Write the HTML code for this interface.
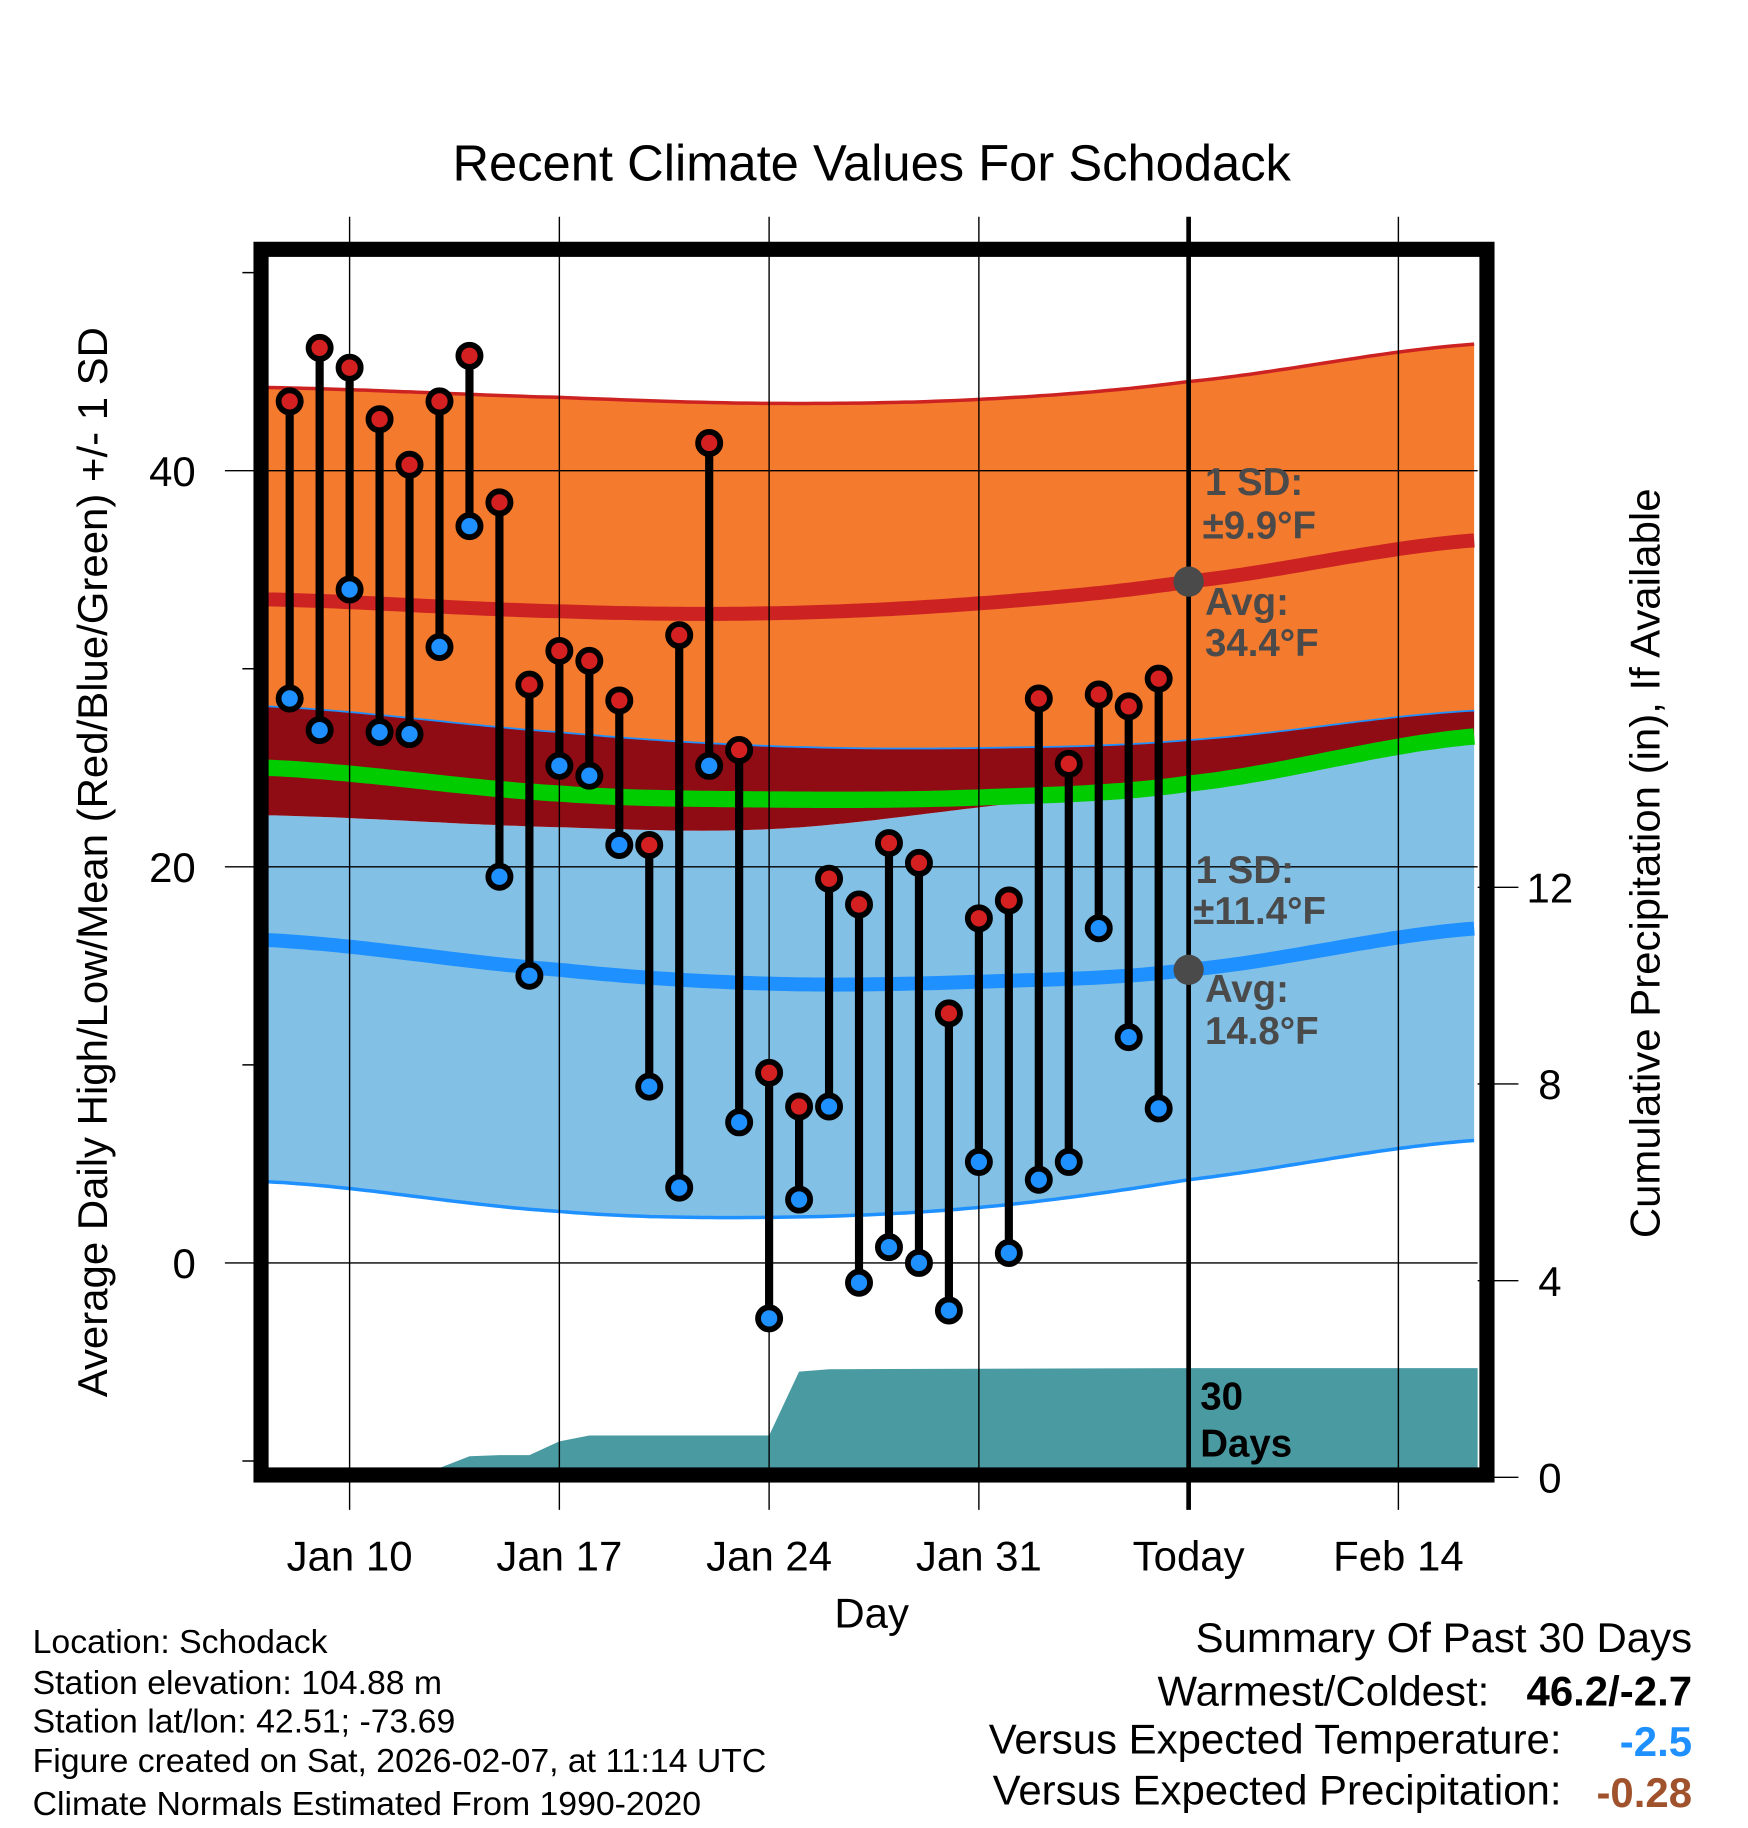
<!DOCTYPE html>
<html><head><meta charset="utf-8"><style>
html,body{margin:0;padding:0;background:#fff;}
svg{display:block;font-family:"Liberation Sans",Arial,sans-serif;}
</style></head><body>
<svg id="chart" width="1748" height="1828" viewBox="0 0 1500 1569" preserveAspectRatio="none" xmlns="http://www.w3.org/2000/svg">
<g id="bands"></g>
<g id="grid"></g>
<g id="marks"></g>
<g id="frame"></g>
<text x="748" y="155" font-size="43.5" text-anchor="middle">Recent Climate Values For Schodack</text>
<text transform="translate(92,740) rotate(-90)" font-size="36" text-anchor="middle">Average Daily High/Low/Mean (Red/Blue/Green) +/- 1 SD</text>
<text transform="translate(1424,741) rotate(-90)" font-size="36" text-anchor="middle">Cumulative Precipitation (in), If Available</text>
<text x="748" y="1397" font-size="36" text-anchor="middle">Day</text>
<g font-size="29">
<text x="28" y="1419">Location: Schodack</text>
<text x="28" y="1454">Station elevation: 104.88 m</text>
<text x="28" y="1487">Station lat/lon: 42.51; -73.69</text>
<text x="28" y="1521">Figure created on Sat, 2026-02-07, at 11:14 UTC</text>
<text x="28" y="1558">Climate Normals Estimated From 1990-2020</text>
</g>
<g font-size="36" text-anchor="end">
<text x="1452" y="1418">Summary Of Past 30 Days</text>
<text x="1278" y="1464">Warmest/Coldest:</text>
<text x="1452" y="1464" font-weight="bold">46.2/-2.7</text>
<text x="1340" y="1505">Versus Expected Temperature:</text>
<text x="1452" y="1507" font-weight="bold" fill="#1e90ff">-2.5</text>
<text x="1340" y="1549">Versus Expected Precipitation:</text>
<text x="1452" y="1551" font-weight="bold" fill="#a0522d">-0.28</text>
</g>
<g font-size="33" font-weight="bold" fill="#4a4a4a">
<text x="1034" y="425">1 SD:</text>
<text x="1032" y="462">±9.9°F</text>
<text x="1034" y="528">Avg:</text>
<text x="1034" y="563">34.4°F</text>
<text x="1026" y="758">1 SD:</text>
<text x="1024" y="793">±11.4°F</text>
<text x="1034" y="860">Avg:</text>
<text x="1034" y="896">14.8°F</text>
</g>
<g font-size="33" font-weight="bold" fill="#000">
<text x="1030" y="1210">30</text>
<text x="1030" y="1250">Days</text>
</g>
</svg>
<script>
// temperature data Jan 8 .. Feb 6 (day index: Jan 1 = 0)
const firstDay = 7;
const highs = [43.5,46.2,45.2,42.6,40.3,43.5,45.8,38.4,29.2,30.9,30.4,28.4,21.1,31.7,41.4,25.9,9.6,7.9,19.4,18.1,21.2,20.2,12.6,17.4,18.3,28.5,25.2,28.7,28.1,29.5];
const lows = [28.5,26.9,34.0,26.8,26.7,31.1,37.2,19.5,14.5,25.1,24.6,21.1,8.9,3.8,25.1,7.1,-2.8,3.2,7.9,-1.0,0.8,0.0,-2.4,5.1,0.5,4.2,5.1,16.9,11.4,7.8];
// cumulative precipitation (in), day index
const precipDays = [6.28,11.0,12.0,13.0,14.0,15.0,16.0,17.0,23.0,24.0,25.0,37.0,46.67];
const precipVals = [0,0,0.19,0.43,0.45,0.45,0.73,0.85,0.85,2.15,2.2,2.22,2.22];
// normals
const normDays = [6.28,16,23,30,37,46.67];
const hiTop = [44.2,43.7,43.4,43.6,44.5,46.4];
const hiAvg = [33.5,32.9,32.8,33.3,34.4,36.5];
const hiBot = [28.1,26.8,26.1,26.0,26.4,27.9];
const meanAvg = [25.0,23.7,23.4,23.5,24.2,26.6];
const loTop = [22.6,22.0,21.9,23.0,24.4,26.2];
const loAvg = [16.3,14.8,14.1,14.2,14.8,16.9];
const loBot = [4.1,2.6,2.3,2.8,4.2,6.2];
const xTickDays = [9,16,23,30,37,44];
const xTickLabels = ['Jan 10','Jan 17','Jan 24','Jan 31','Today','Feb 14'];
const yTicks = [0,20,40];
const yMinor = [-10,10,30,50];
const y2Ticks = [0,4,8,12];
const todayDay = 37;

const L=230,R=1268,T=220,B=1260;
const X=d=>300+(d-9)*25.714;
const Y=v=>1084-v*17;
const Y2=p=>1268-p*42.2;
const NS='http://www.w3.org/2000/svg';
function mk(parent,tag,attrs){const e=document.createElementNS(NS,tag);for(const k in attrs)e.setAttribute(k,attrs[k]);parent.appendChild(e);return e;}
function interp(arr,d){for(let i=0;i<normDays.length-1;i++){if(d<=normDays[i+1]){const a=normDays[i],b=normDays[i+1];const t=(d-a)/(b-a);
 const p0=arr[Math.max(i-1,0)],p1=arr[i],p2=arr[i+1],p3=arr[Math.min(i+2,arr.length-1)];
 const t2=t*t,t3=t2*t;return 0.5*((2*p1)+(-p0+p2)*t+(2*p0-5*p1+4*p2-p3)*t2+(-p0+3*p1-3*p2+p3)*t3);}}return arr[arr.length-1];}
const samples=[];for(let d=normDays[0];d<=normDays[5]+0.001;d+=0.25)samples.push(Math.min(d,normDays[5]));
function linePts(arr){return samples.map(d=>X(d).toFixed(1)+','+Y(interp(arr,d)).toFixed(1)).join(' ');}
function band(g,top,bot,fill,name){const pts=samples.map(d=>X(d).toFixed(1)+','+Y(interp(top,d)).toFixed(1)).concat(samples.slice().reverse().map(d=>X(d).toFixed(1)+','+Y(interp(bot,d)).toFixed(1)));
 const p=mk(g,'polygon',{points:pts.join(' '),fill:fill});
 
 }
const bands=document.getElementById('bands');
const cp=mk(bands,'clipPath',{id:'plotclip'});mk(cp,'rect',{x:L,y:T,width:R-L,height:B-T});
bands.setAttribute('clip-path','url(#plotclip)');
band(bands,loTop,loBot,'#82c0e6','low-sd-band');
band(bands,hiBot,loTop,'#900c14','overlap-band');
band(bands,hiTop,hiBot,'#f47a2e','high-sd-band');
band(bands,loTop,loTop.map((v,i)=>Math.min(v,hiBot[i])),'#82c0e6','low-band-top');
let ln;
ln=mk(bands,'polyline',{points:linePts(hiTop),fill:'none',stroke:'#cc2222','stroke-width':3});

ln=mk(bands,'polyline',{points:linePts(hiBot),fill:'none',stroke:'#1e90ff','stroke-width':1.5});

ln=mk(bands,'polyline',{points:linePts(loBot),fill:'none',stroke:'#1e90ff','stroke-width':3});

ln=mk(bands,'polyline',{points:linePts(meanAvg),fill:'none',stroke:'#00cc00','stroke-width':14});

ln=mk(bands,'polyline',{points:linePts(hiAvg),fill:'none',stroke:'#cc2222','stroke-width':12});

ln=mk(bands,'polyline',{points:linePts(loAvg),fill:'none',stroke:'#1e90ff','stroke-width':12});

const ppts=[X(precipDays[0])+','+(B+10)].concat(precipDays.map((d,i)=>X(d).toFixed(1)+','+Y2(precipVals[i]).toFixed(1))).concat([X(precipDays[precipDays.length-1])+','+(B+10)]);
const pa=mk(bands,'polygon',{points:ppts.join(' '),fill:'#4a9aa2'});


const grid=document.getElementById('grid');
xTickDays.forEach((d,i)=>{
 const l=mk(grid,'line',{x1:X(d),x2:X(d),y1:186,y2:1296,stroke:'#000','stroke-width':d===todayDay?4:1.2});
 
 const t=mk(grid,'text',{x:X(d),y:1348,'font-size':36,'text-anchor':'middle'});t.textContent=xTickLabels[i];
 
});
yTicks.forEach(v=>{
 const l=mk(grid,'line',{x1:193,x2:R,y1:Y(v),y2:Y(v),stroke:'#000','stroke-width':1.2});
 
 const t=mk(grid,'text',{x:168,y:Y(v)+13,'font-size':36,'text-anchor':'end'});t.textContent=v;
 
});
yMinor.forEach(v=>{const l=mk(grid,'line',{x1:208,x2:L,y1:Y(v),y2:Y(v),stroke:'#000','stroke-width':1.2});
 });
y2Ticks.forEach(v=>{
 const l=mk(grid,'line',{x1:R,x2:1303,y1:Y2(v),y2:Y2(v),stroke:'#000','stroke-width':1.2});
 
 const t=mk(grid,'text',{x:1330,y:Y2(v)+13,'font-size':36,'text-anchor':'middle'});t.textContent=v;
 
});

const marks=document.getElementById('marks');
highs.forEach((h,i)=>{
 const x=X(firstDay+i);
 const s=mk(marks,'line',{x1:x,x2:x,y1:Y(h),y2:Y(lows[i]),stroke:'#000','stroke-width':7});
 
 const c1=mk(marks,'circle',{cx:x,cy:Y(h),r:9.5,fill:'#d42020',stroke:'#000','stroke-width':5});
 
 const c2=mk(marks,'circle',{cx:x,cy:Y(lows[i]),r:9.5,fill:'#1e90ff',stroke:'#000','stroke-width':5});
 
});
[hiAvg,loAvg].forEach(arr=>{const c=mk(marks,'circle',{cx:X(todayDay),cy:Y(interp(arr,todayDay)),r:13,fill:'#4a4a4a'});
 });

const fr=mk(document.getElementById('frame'),'rect',{x:224,y:214,width:1052,height:1052,fill:'none',stroke:'#000','stroke-width':13});

</script>
</body></html>
